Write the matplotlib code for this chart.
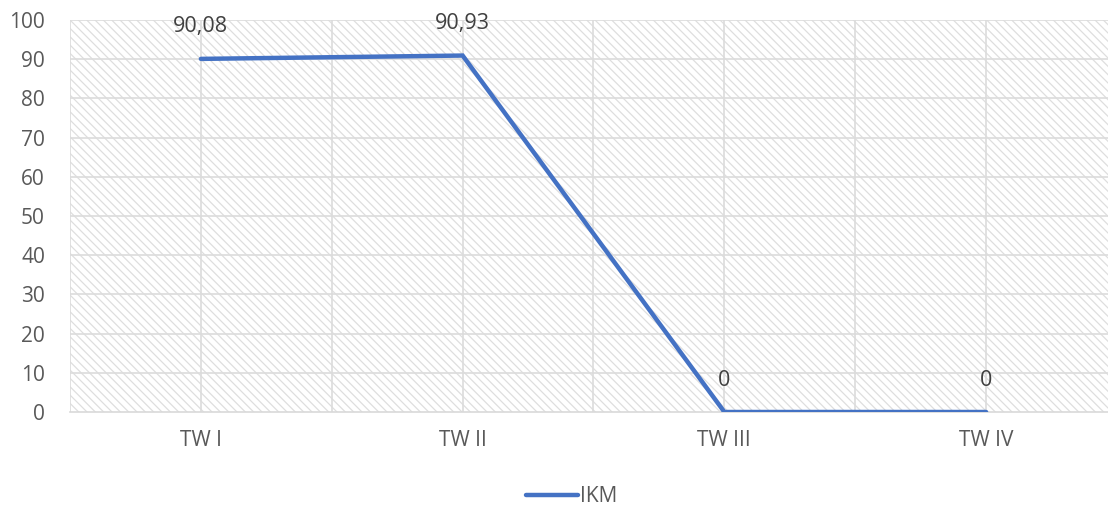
import matplotlib.pyplot as plt
import numpy as np

categories = ["TW I", "TW II", "TW III", "TW IV"]
ikm = [90.08, 90.93, 0, 0]
value_labels = ["90,08", "90,93", "0", "0"]

plt.rcParams["font.family"] = ["Open Sans", "DejaVu Sans"]
plt.rcParams["hatch.color"] = "#dedede"
plt.rcParams["hatch.linewidth"] = 0.9

W, H = 1108, 514
fig = plt.figure(figsize=(W / 100, H / 100), dpi=100)
ax = fig.add_axes([70 / W, 1 - 412 / H, 1 - 70 / W, (412 - 20) / H])

x = np.arange(len(categories))
ax.set_xlim(-0.5, 3.5 - 9 / 262)
ax.set_ylim(0, 100)

# hatched background
ax.add_patch(plt.Rectangle((0, 0), 1, 1, transform=ax.transAxes, facecolor="white",
                           edgecolor="#dedede", hatch="\\\\\\\\", linewidth=0, zorder=0))

for yv in range(10, 101, 10):
    ax.axhline(yv, color="#dcdcdc", linewidth=1.2, zorder=1)
for xv in np.arange(-0.5, 3.6, 0.5):
    ax.axvline(xv, color="#dcdcdc", linewidth=1.2, zorder=1)

line, = ax.plot(x, ikm, color="#4472C4", linewidth=3.2, solid_capstyle="round",
                solid_joinstyle="miter", zorder=3, label="IKM")

for xi, yi, lab in zip(x, ikm, value_labels):
    ax.annotate(lab, (xi, yi), xytext=(0, 23), textcoords="offset points",
                ha="center", va="center", fontsize=15.5, color="#404040")

for s in ["top", "right", "left"]:
    ax.spines[s].set_visible(False)
ax.spines["bottom"].set_color("#d9d9d9")
ax.spines["bottom"].set_linewidth(1.2)

ax.set_xticks(x)
ax.set_xticklabels(categories)
ax.set_yticks(range(0, 101, 10))
ax.tick_params(length=0, labelsize=15, colors="#595959")
ax.tick_params(axis="x", pad=13)
ax.tick_params(axis="y", pad=18)

fig.legend(handles=[line], loc="center", bbox_to_anchor=(572 / W, 1 - 497 / H),
           frameon=False, fontsize=15, handlelength=2.5, handletextpad=0.1,
           labelcolor="#595959")

fig.savefig("out.png", dpi=100, facecolor="white")
